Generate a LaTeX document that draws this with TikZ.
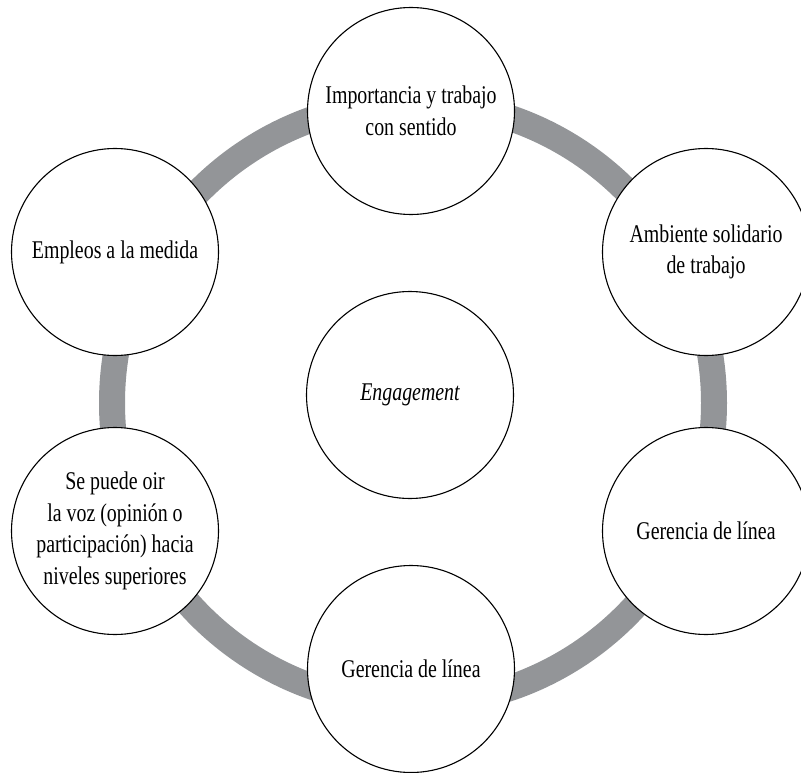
\documentclass[tikz,border=0pt]{standalone}
\usepackage{fontspec}
\setmainfont{Liberation Serif}[FakeStretch=0.78]
\begin{document}
\begin{tikzpicture}[x=1pt,y=-1pt,
  bubble/.style={circle,draw=black,line width=1.1pt,fill=white,minimum size=207pt,inner sep=0pt,align=center,
    font=\fontsize{25.5pt}{31.7pt}\selectfont},
  ringline/.style={draw={rgb,255:red,147;green,149;blue,152},line width=26pt}]
\useasboundingbox (0,0) rectangle (801,773);
\coordinate (ringc) at (413,403);
\draw[ringline] (ringc) circle[radius=301pt];
\node[bubble] (top) at (411,111) {Importancia y trabajo\\con sentido};
\node[bubble] (rt) at (706,252) {Ambiente solidario\\de trabajo};
\node[bubble] (rb) at (706,531) {Gerencia de línea};
\node[bubble] (bot) at (411,669) {Gerencia de línea};
\node[bubble] (lb) at (115,531) {Se puede oir\\la voz (opinión o\\participación) hacia\\niveles superiores};
\node[bubble] (lt) at (115,252) {Empleos a la medida};
\node[bubble] (ctr) at (410,395) {\itshape Engagement};
\end{tikzpicture}
\end{document}
